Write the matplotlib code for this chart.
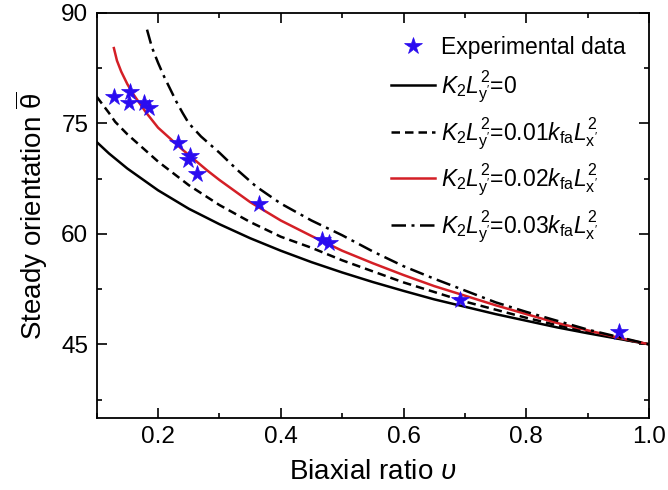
import numpy as np
import matplotlib
matplotlib.use('Agg')
import matplotlib.pyplot as plt
from matplotlib.ticker import MultipleLocator

plt.rcParams['font.family'] = ['Liberation Sans', 'DejaVu Sans']
plt.rcParams['mathtext.fontset'] = 'custom'
plt.rcParams['mathtext.rm'] = 'Liberation Sans'
plt.rcParams['mathtext.it'] = 'Liberation Sans:italic'
plt.rcParams['mathtext.bf'] = 'Liberation Sans:bold'

# experimental points
exp_x = [0.129, 0.155, 0.152, 0.177, 0.186, 0.232, 0.252, 0.248, 0.263,
         0.365, 0.467, 0.478, 0.692, 0.951]
exp_y = [78.5, 79.3, 77.8, 77.7, 77.0, 72.3, 70.6, 70.0, 68.1,
         64.0, 59.1, 58.8, 51.0, 46.7]

# K2 L^2 = 0
k0_x = [0.10, 0.12, 0.15, 0.20, 0.25, 0.30, 0.35, 0.40, 0.45, 0.50,
        0.55, 0.60, 0.65, 0.70, 0.75, 0.80, 0.85, 0.90, 0.95, 1.00]
k0_y = [72.45, 70.9, 68.85, 65.9, 63.4, 61.3, 59.4, 57.7, 56.15, 54.75,
        53.45, 52.25, 51.1, 50.1, 49.1, 48.2, 47.3, 46.5, 45.75, 45.0]

# 0.01
k1_x = [0.10, 0.12, 0.13, 0.15, 0.20, 0.25, 0.30, 0.35, 0.40, 0.45,
        0.50, 0.55, 0.60, 0.65, 0.70, 0.75, 0.80, 0.85, 0.90, 0.95, 1.00]
k1_y = [78.6, 76.4, 75.2, 73.5, 69.8, 66.6, 63.9, 61.6, 59.6, 58.1,
        56.4, 54.9, 53.4, 52.1, 50.8, 49.7, 48.6, 47.6, 46.7, 45.8, 45.0]

# 0.02
k2_x = [0.128, 0.133, 0.14, 0.15, 0.16, 0.18, 0.20, 0.22, 0.24, 0.26, 0.28,
        0.30, 0.35, 0.40, 0.45, 0.50, 0.55, 0.60, 0.65, 0.70, 0.75, 0.80,
        0.85, 0.90, 0.95, 1.00]
k2_y = [85.2, 83.5, 82.0, 80.3, 78.9, 76.5, 74.4, 72.9, 71.4, 70.0, 68.6,
        67.3, 64.3, 61.8, 59.7, 57.7, 56.0, 54.4, 52.9, 51.6, 50.3, 49.1,
        47.9, 46.9, 45.9, 45.0]

# 0.03
k3_x = [0.182, 0.19, 0.20, 0.21, 0.22, 0.23, 0.24, 0.25, 0.27, 0.30, 0.33,
        0.36, 0.40, 0.45, 0.50, 0.55, 0.60, 0.65, 0.70, 0.75, 0.80, 0.85,
        0.90, 0.95, 1.00]
k3_y = [87.7, 85.3, 83.2, 81.3, 79.6, 77.9, 76.4, 75.0, 73.2, 71.0, 68.6,
        66.4, 64.1, 61.8, 59.8, 57.6, 55.6, 53.9, 52.3, 50.7, 49.4, 48.2,
        47.0, 46.0, 45.0]

red = '#d41f26'
blue = '#2a0cf0'

fig = plt.figure(figsize=(6.68, 4.90), dpi=100)
ax = fig.add_axes([96.7/668, 1-418/490, (649-96.7)/668, (418-12.7)/490])

ax.plot(exp_x, exp_y, '*', color=blue, markersize=13, markeredgewidth=0.5,
        label='Experimental data', zorder=5)
ax.plot(k0_x, k0_y, '-', color='k', lw=1.8,
        label=r"$K_2L_{\mathrm{y'}}^2$=0")
ax.plot(k1_x, k1_y, color='k', lw=1.8, dashes=(3.4, 2.0),
        label=r"$K_2L_{\mathrm{y'}}^2$=0.01$k_{\mathrm{fa}}L_{\mathrm{x'}}^2$")
ax.plot(k2_x, k2_y, '-', color=red, lw=1.8,
        label=r"$K_2L_{\mathrm{y'}}^2$=0.02$k_{\mathrm{fa}}L_{\mathrm{x'}}^2$")
ax.plot(k3_x, k3_y, color='k', lw=1.8, dashes=(5.8, 2.2, 1.2, 2.2),
        label=r"$K_2L_{\mathrm{y'}}^2$=0.03$k_{\mathrm{fa}}L_{\mathrm{x'}}^2$")

ax.set_xlim(0.1, 1.0)
ax.set_ylim(35, 90)
ax.xaxis.set_minor_locator(MultipleLocator(0.1))
ax.yaxis.set_minor_locator(MultipleLocator(7.5))
ax.set_xticks([0.2, 0.4, 0.6, 0.8, 1.0])
ax.set_xticklabels(['0.2', '0.4', '0.6', '0.8', '1.0'])
ax.set_yticks([45, 60, 75, 90])

ax.tick_params(which='both', direction='in', top=True, right=True,
               width=1.2, labelsize=17.5, pad=6)
ax.tick_params(which='major', length=7)
ax.tick_params(which='minor', length=3.5)
for s in ax.spines.values():
    s.set_linewidth(1.3)

ax.set_xlabel(r'Biaxial ratio $\upsilon$', fontsize=20, labelpad=8)
ax.set_ylabel(r'Steady orientation $\overline{\mathrm{\theta}}$', fontsize=20, labelpad=8)

ax.legend(loc='upper right', frameon=False, fontsize=16.5, handlelength=1.9,
          handletextpad=0.3, labelspacing=0.45, borderaxespad=0.6,
          bbox_to_anchor=(1.0, 1.0))

fig.savefig('out.png', dpi=100)
